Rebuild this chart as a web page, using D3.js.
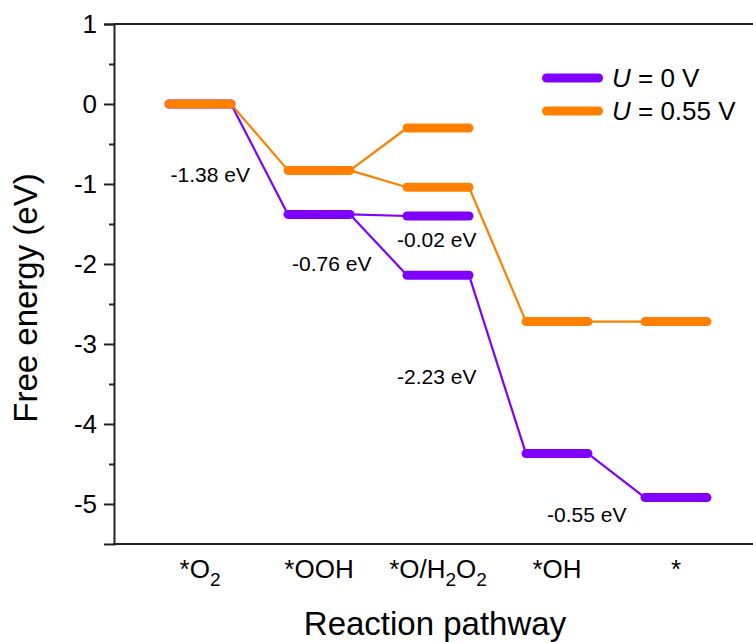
<!DOCTYPE html>
<html>
<head>
<meta charset="utf-8">
<script src="https://cdn.jsdelivr.net/npm/d3@7"></script>
<style>
  html, body { margin: 0; padding: 0; background: #fff; }
  svg { display: block; }
  text { font-family: Arial, "Liberation Sans", sans-serif; fill: #000; }
</style>
</head>
<body>
<svg id="chart" width="753" height="642"></svg>
<script>
// ---- data ----
const categories = ["*O2", "*OOH", "*O/H2O2", "*OH", "*"];
const seriesNames = ["U = 0 V", "U = 0.55 V"];
const energyU0   = [0, -1.38, -2.14, -4.37, -4.92];   // main 4e- path, U = 0 V
const energyU055 = [0, -0.83, -1.04, -2.72, -2.72];   // main 4e- path, U = 0.55 V
const branchU0   = -1.40;   // *O/H2O2 (H2O2 branch) at U = 0 V
const branchU055 = -0.30;   // *O/H2O2 (H2O2 branch) at U = 0.55 V
const stepLabels = ["-1.38 eV", "-0.76 eV", "-0.02 eV", "-2.23 eV", "-0.55 eV"];
const yTicks = [1, 0, -1, -2, -3, -4, -5];
const yMinorTicks = [0.5, -0.5, -1.5, -2.5, -3.5, -4.5];
const colors = ["#8000ff", "#ff8000"];

(function () {
const svg = d3.select("#chart");
const mLeft = 114, mRight = 762, mTop = 24, mBottom = 544;

const y = d3.scaleLinear().domain([-5.5, 1]).range([mBottom, mTop]);
const x = d3.scalePoint().domain(categories).range([200, 676]);
const half = 31;

// frame top
svg.append("line").attr("x1", mLeft).attr("x2", mRight).attr("y1", mTop).attr("y2", mTop)
  .attr("stroke", "#222").attr("stroke-width", 2);

// y axis
const yAxis = d3.axisLeft(y).tickValues(yTicks).tickSize(10).tickPadding(7)
  .tickFormat(d => d < 0 ? "-" + Math.abs(d) : String(d));
const gy = svg.append("g").attr("transform", `translate(${mLeft},0)`).call(yAxis);
gy.select(".domain").attr("stroke", "#222").attr("stroke-width", 2);
gy.selectAll(".tick line").attr("stroke", "#222").attr("stroke-width", 2);
gy.selectAll(".tick text").attr("font-size", 26)
  .style("font-family", "Arial, 'Liberation Sans', sans-serif");
const gyMinor = svg.append("g").attr("transform", `translate(${mLeft},0)`)
  .call(d3.axisLeft(y).tickValues(yMinorTicks).tickSize(5).tickFormat(""));
gyMinor.select(".domain").remove();
gyMinor.selectAll(".tick line").attr("stroke", "#222").attr("stroke-width", 2);

// x axis line
svg.append("line").attr("x1", mLeft - 1).attr("x2", mRight).attr("y1", mBottom).attr("y2", mBottom)
  .attr("stroke", "#222").attr("stroke-width", 2);

const catG = svg.append("g");
categories.forEach(c => {
  const t = catG.append("text").attr("x", x(c)).attr("y", 578)
    .attr("text-anchor", "middle").attr("font-size", 26);
  const parts = c.split(/(2)/).filter(p => p !== "");
  let lowered = false;
  parts.forEach(p => {
    if (p === "2") {
      t.append("tspan").attr("font-size", 19).attr("dy", lowered ? 0 : 8).text("2");
      lowered = true;
    } else {
      t.append("tspan").attr("dy", lowered ? -8 : 0).text(p);
      lowered = false;
    }
  });
});

// axis titles
svg.append("text").attr("x", 435).attr("y", 635).attr("text-anchor", "middle")
  .attr("font-size", 33).text("Reaction pathway");
svg.append("text").attr("transform", "translate(37,298) rotate(-90)")
  .attr("text-anchor", "middle").attr("font-size", 33).text("Free energy (eV)");

// ---- diagram ----
function drawSeries(vals, branch, color) {
  const g = svg.append("g");
  for (let i = 0; i < vals.length - 1; i++) {
    g.append("line")
      .attr("x1", x(categories[i]) + half).attr("y1", y(vals[i]))
      .attr("x2", x(categories[i + 1]) - half).attr("y2", y(vals[i + 1]))
      .attr("stroke", color).attr("stroke-width", 2.2);
  }
  g.append("line")
    .attr("x1", x(categories[1]) + half).attr("y1", y(vals[1]))
    .attr("x2", x(categories[2]) - half).attr("y2", y(branch))
    .attr("stroke", color).attr("stroke-width", 2.2);
  const levels = vals.map((v, i) => ({ c: categories[i], v }));
  levels.push({ c: categories[2], v: branch });
  g.selectAll("line.level").data(levels).enter().append("line")
    .attr("class", "level")
    .attr("x1", d => x(d.c) - half).attr("x2", d => x(d.c) + half)
    .attr("y1", d => y(d.v)).attr("y2", d => y(d.v))
    .attr("stroke", color).attr("stroke-width", 9).attr("stroke-linecap", "round");
}
drawSeries(energyU0, branchU0, colors[0]);
drawSeries(energyU055, branchU055, colors[1]);

// step labels
const labG = svg.append("g").attr("font-size", 21);
const labPos = [
  { x: x(categories[0]) + 50, yv: -0.975, anchor: "end" },
  { x: x(categories[1]) - 27, yv: -2.09, anchor: "start" },
  { x: x(categories[2]) - 41, yv: -1.79, anchor: "start" },
  { x: x(categories[2]) - 41, yv: -3.5, anchor: "start" },
  { x: x(categories[3]) - 10, yv: -5.225, anchor: "start" }
];
stepLabels.forEach((s, i) => {
  labG.append("text").attr("x", labPos[i].x).attr("y", y(labPos[i].yv))
    .attr("text-anchor", labPos[i].anchor).text(s);
});

// legend
const legY = [78, 111];
seriesNames.forEach((name, i) => {
  svg.append("line").attr("x1", 546.5).attr("x2", 598.5).attr("y1", legY[i]).attr("y2", legY[i])
    .attr("stroke", colors[i]).attr("stroke-width", 9).attr("stroke-linecap", "round");
  const t = svg.append("text").attr("x", 612).attr("y", legY[i] + 9).attr("font-size", 26);
  t.append("tspan").attr("font-style", "italic").text("U");
  t.append("tspan").text(name.slice(1));
});
})();
</script>
</body>
</html>
